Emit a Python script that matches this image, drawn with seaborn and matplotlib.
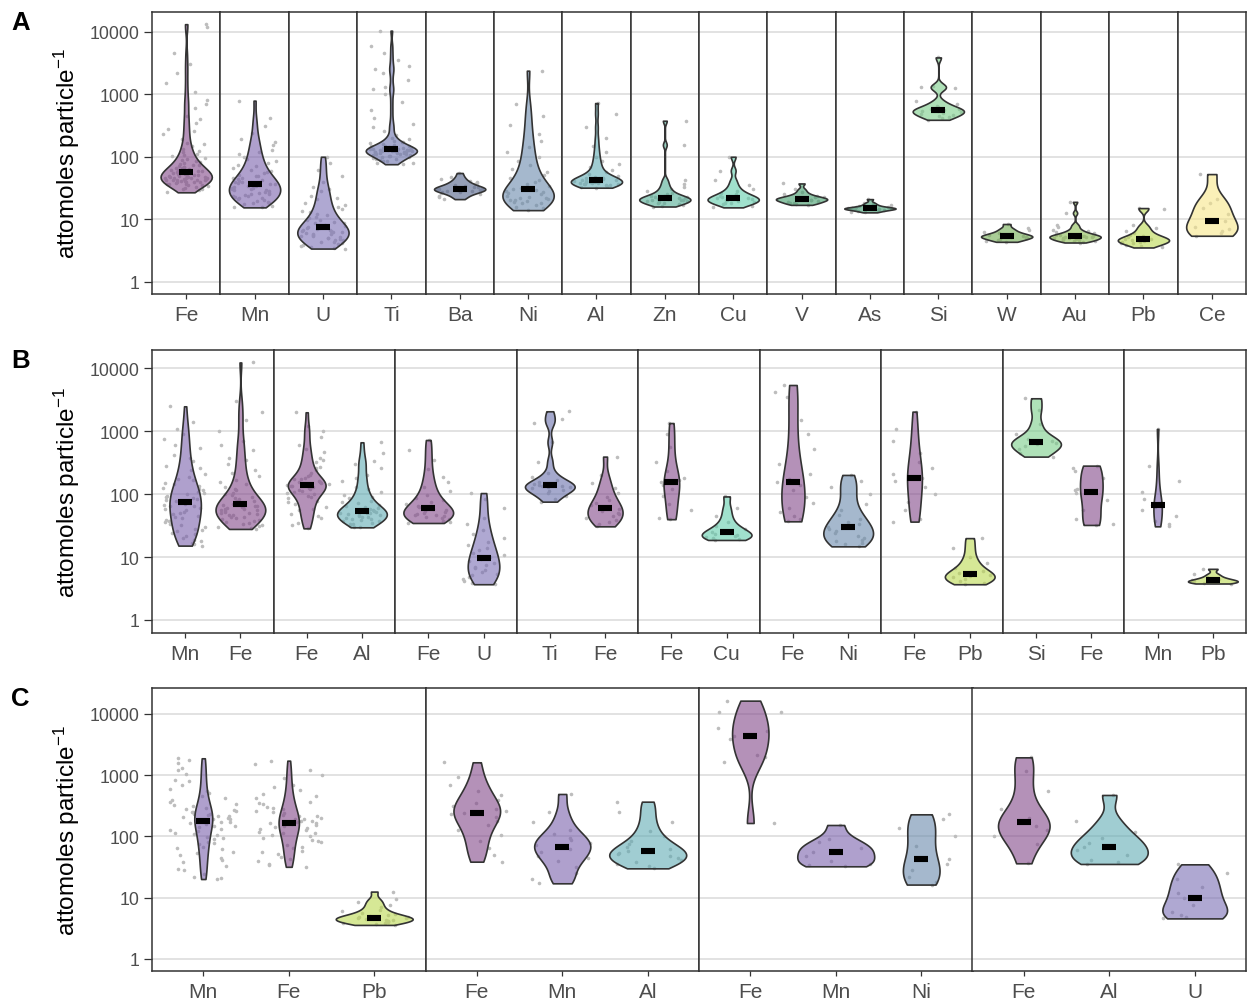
import numpy as np
import pandas as pd
import matplotlib
matplotlib.use("Agg")
import matplotlib.pyplot as plt
from matplotlib.ticker import FixedLocator, FixedFormatter, NullLocator
import seaborn as sns

# ---------------------------------------------------------------------------
# Per-particle element masses (attomoles particle^-1)
# Row A: single-element particles
a_fe = [27, 29, 31, 33, 34, 35, 36, 37, 38, 39, 40, 40, 41, 42, 42, 43, 43, 44,
        44, 45, 45, 46, 46, 47, 48, 49, 50, 51, 52, 53, 54, 55, 56, 57, 58, 59,
        60, 62, 64, 66, 68, 70, 73, 76, 80, 84, 89, 95, 102, 110, 120, 132, 148,
        168, 195, 230, 280, 350, 450, 600, 800, 1100, 1500, 2200, 3000, 4500,
        12000, 13200,
        30, 32, 35, 37, 39, 41, 43, 45, 47, 50, 53, 56,
        61, 65, 69, 74, 82, 92, 105, 125, 160, 260, 400, 700]
a_mn = [15.5, 16.5, 17.5, 18.5, 19, 20, 21, 22, 23, 24, 25, 25.5, 26, 27, 28, 29,
        30, 31, 32, 33, 34, 35, 36, 37, 38, 40, 42, 44, 46, 49, 52, 56, 60, 65,
        71, 78, 87, 98, 112, 130, 155, 190, 240, 310, 420, 790,
        16, 18, 19.5, 21.5, 23.5, 24.5, 26.5, 29.5, 31.5, 34,
        39, 41, 45, 50, 54, 62, 75, 92, 120, 170]
a_u = [3.4, 3.6, 3.8, 4.0, 4.2, 4.4, 4.6, 4.8, 5.0, 5.2, 5.4, 5.6, 5.8, 6.0, 6.2,
       6.4, 6.6, 6.8, 7.0, 7.2, 7.5, 7.8, 8.2, 8.6, 9.0, 9.6, 10.3, 11, 12, 13,
       14.5, 16, 18, 21, 24, 28, 33, 40, 50, 62, 80, 100,
       3.5, 3.9, 4.3, 4.7, 5.1, 5.5, 5.9, 6.3, 6.7,
       7.3, 7.9, 8.8, 9.8, 11.5, 13.5, 17, 22, 30]
a_ti = [76, 80, 84, 88, 92, 95, 98, 101, 104, 107, 110, 112, 114, 116, 118, 120,
        121, 122, 123, 124, 125, 126, 127, 128, 129, 130, 132, 134, 136, 138, 141,
        144, 147, 151, 155, 160, 166, 173, 181, 190, 220, 260, 330, 420, 560, 750,
        1000, 1300, 1700, 2200, 2800, 3500, 4500, 6000, 10400,
        78, 86, 93, 99, 106, 111, 115, 119, 122.5,
        131, 135, 140, 150, 170, 200, 300, 1200, 2500]
a_ba = [21, 22.5, 24, 25, 26, 27, 27.5, 28, 28.5, 29, 29.5, 30, 30.5, 31, 31.5, 32,
        32.5, 33, 34, 35, 36, 37.5, 39, 41, 44, 48, 55]
a_ni = [14, 15, 16, 17, 18, 18.5, 19, 19.5, 20, 20.5, 21, 21.5, 22, 23, 24, 25, 26,
        27, 28, 29, 30, 32, 34, 36, 39, 42, 46, 51, 57, 64, 73, 85, 100, 120, 145,
        180, 230, 320, 450, 700, 2380]
a_al = [32, 33, 34, 35, 35.5, 36, 36.5, 37, 37.5, 38, 38.5, 39, 39.5, 40, 40.5, 41,
        41, 41.5, 42, 43, 44, 45, 46.5, 48, 50, 53, 57, 62, 68, 76, 86, 100, 120,
        150, 200, 300, 480, 722]
a_zn = [16, 16.5, 17, 17.5, 18, 18.5, 19, 19.3, 19.6, 20, 20.3, 20.6, 21, 21.3, 21.6,
        22, 22.5, 23, 23.5, 24, 25, 26.5, 28, 30, 33, 37, 43, 155, 377]
a_cu = [15.5, 16.5, 17.5, 18, 18.5, 19, 19.5, 20, 20.5, 21, 21.5, 22, 22.5, 23, 24,
        25, 26.5, 28, 31, 35, 42, 60, 100]
a_v = [17, 17.5, 18, 18.5, 19, 19.5, 20, 20.3, 20.6, 21, 21.3, 21.6, 22, 22.5, 23,
       24, 25, 27, 30, 37.4]
a_as = [12.9, 13.3, 13.7, 14, 14.2, 14.4, 14.6, 14.8, 14.9, 15, 15.1, 15.3, 15.5,
        15.8, 16.2, 16.8, 17.5, 18.5, 21]
a_si = [390, 410, 430, 450, 470, 490, 505, 520, 535, 545, 555, 570, 590, 615, 650,
        700, 780, 1250, 1300, 1350, 3880]
a_w = [4.36, 4.5, 4.7, 4.85, 5.0, 5.1, 5.2, 5.3, 5.4, 5.5, 5.65, 5.8, 6.0, 6.3, 6.7,
       7.2, 8.4]
a_au = [4.25, 4.4, 4.5, 4.55, 4.6, 4.7, 4.8, 4.9, 5.0, 5.05, 5.1, 5.2, 5.3, 5.3,
        5.4, 5.45, 5.5, 5.6, 5.7, 5.9, 6.0, 6.2, 6.5, 6.8, 7.5, 8.2, 12.6, 19]
a_pb = [3.54, 3.7, 3.9, 4.1, 4.2, 4.3, 4.4, 4.5, 4.6, 4.7, 4.8, 4.9, 5.0, 5.2, 5.4,
        5.6, 6.0, 6.5, 7.2, 8.0, 14.6, 15.1]
a_ce = [5.45, 6.0, 6.5, 7.0, 7.6, 9.5, 12, 15, 18, 21, 52.8]

# Row B: two-element particles
b1_mn = [15.2, 16, 18, 20, 22, 24, 26, 28, 30, 33, 36, 39, 42, 45, 48, 52, 56, 60,
         64, 68, 71, 74, 78, 83, 88, 94, 100, 107, 115, 125, 137, 150, 165, 185,
         210, 240, 280, 340, 420, 550, 750, 1100, 1400, 2490,
         17, 19, 23, 27, 32, 38, 44, 50, 58, 66,
         80, 91, 104, 120, 145, 175, 260, 380, 600, 900]
b1_fe = [28, 30, 32, 34, 36, 38, 40, 42, 44, 46, 48, 50, 52, 54, 56, 58, 60, 62, 64,
         66, 67, 69, 72, 75, 79, 84, 90, 97, 105, 115, 128, 145, 165, 195, 240, 300,
         380, 500, 700, 1000, 1500, 3000, 12400,
         29, 31, 35, 39, 43, 47, 51, 55, 59, 63,
         70, 77, 87, 100, 120, 155, 220, 350, 600, 2000]
b2_fe = [28.6, 35, 42, 48, 55, 62, 70, 78, 86, 94, 102, 110, 118, 125, 131, 136,
         141, 147, 154, 162, 171, 182, 196, 215, 240, 275, 320, 380, 460, 600, 800,
         1200, 2000,
         32, 45, 58, 74, 90, 106, 114, 122, 128, 134,
         138, 144, 150, 158, 175, 205, 260, 350, 520, 1000]
b2_al = [29.7, 31, 33, 35, 37, 39, 40.5, 42, 43.5, 45, 46.5, 48, 49.5, 51, 53, 55,
         57, 60, 63, 67, 72, 78, 86, 96, 110, 130, 160, 200, 260, 340, 450, 667,
         30.5, 34, 38, 41, 44, 47, 50, 52,
         54, 58, 65, 75, 90, 120, 180, 300]
b3_fe = [34.8, 36, 38, 40, 42, 44, 45, 46, 47, 48, 50, 52, 54, 56.7, 59, 62, 65, 69,
         74, 80, 88, 98, 112, 130, 155, 190, 250, 350, 500, 726]
b3_u = [3.7, 3.9, 4.2, 4.5, 4.8, 5.1, 5.4, 5.8, 6.2, 6.6, 7.0, 7.5, 8.0, 8.6, 9.3,
        10, 10.8, 11.7, 12.8, 14, 15.5, 17.5, 20, 23, 27, 33, 42, 60, 85, 104]
b4_ti = [76, 85, 95, 105, 112, 118, 124, 128, 131, 133, 136, 140, 146, 155, 168, 185,
         220, 330, 670, 1340, 1570, 2075]
b4_fe = [30.8, 33, 36, 39, 42, 45, 48, 51, 54, 58, 62, 67, 73, 80, 90, 105, 125, 150,
         200, 395]
b5_fe = [40, 42, 55, 70, 95, 120, 140, 154, 165, 180, 230, 330, 560, 900, 1350]
b5_cu = [18.7, 19.5, 20, 20.5, 21.5, 22.5, 23.5, 24.7, 26, 28, 31, 36, 45, 60, 92]
b6_fe = [37, 40, 45, 52, 60, 72, 90, 115, 140, 154, 175, 210, 300, 520, 900, 1500,
         3500, 4200, 5430]
b6_ni = [14.8, 16, 17, 18, 19, 20, 22, 24, 26, 28, 30.4, 33, 36, 40, 46, 55, 70, 100,
         130, 160, 202]
b7_fe = [36.6, 40, 55, 75, 100, 130, 160, 181, 210, 260, 330, 450, 700, 1100, 2050]
b7_pb = [3.7, 3.9, 4.2, 4.5, 4.8, 5.0, 5.2, 5.5, 6.0, 6.8, 8, 10, 14, 20]
b8_si = [395, 450, 520, 580, 620, 650, 690, 760, 900, 1300, 2200, 3340]
b8_fe = [32.4, 34, 40, 55, 80, 105, 115, 121, 180, 230, 260, 284]
b9_mn = [30.8, 33, 38, 45, 55, 62, 67, 72, 85, 110, 160, 280, 1085]
b9_pb = [3.8, 3.9, 4.0, 4.1, 4.2, 4.3, 4.5, 4.8, 5.3, 6.5]

# Row C: three-element particles
c1_mn = [20.2, 21, 24, 28, 33, 38, 44, 50, 56, 62, 68, 75, 82, 90, 98, 106, 115, 124,
         133, 142, 150, 158, 166, 174, 180, 186, 192, 200, 208, 217, 226, 236, 247,
         260, 275, 290, 310, 335, 365, 400, 450, 520, 600, 700, 850, 1050, 1300,
         1600, 1890,
         22, 30, 41, 53, 65, 79, 94, 110, 128, 146, 170,
         195, 212, 230, 255, 285, 330, 420, 560, 800, 1200, 1800]
c1_fe = [32, 35, 40, 46, 52, 58, 65, 72, 80, 88, 96, 104, 112, 120, 128, 136, 144,
         152, 160, 166, 172, 180, 190, 200, 212, 225, 240, 258, 280, 305, 335, 370,
         420, 490, 580, 700, 900, 1200, 1730,
         34, 43, 55, 68, 84, 100, 116, 132, 148, 163,
         176, 195, 218, 250, 292, 350, 450, 640, 1000, 1500]
c1_pb = [3.6, 3.7, 3.8, 3.9, 4.0, 4.1, 4.2, 4.3, 4.4, 4.5, 4.6, 4.67, 4.67, 4.8, 4.9,
         5.0, 5.2, 5.4, 5.7, 6.0, 6.4, 7.0, 7.7, 8.5, 9.5, 12.6]
c2_fe = [38.8, 50, 65, 85, 105, 130, 155, 180, 205, 230, 240, 258, 285, 315, 350,
         400, 470, 560, 700, 950, 1625]
c2_mn = [17.2, 20, 25, 32, 40, 45, 48, 55, 62, 68, 73.6, 79, 86, 95, 110, 130, 170,
         250, 494]
c2_al = [30.2, 33, 36, 39, 42, 45, 48, 51, 54, 58, 62, 67, 74, 84, 100, 125, 170,
         250, 370]
c3_fe = [166, 1620, 2000, 2100, 3900, 4430, 5200, 6000, 10800, 10900, 16500]
c3_mn = [32.6, 34, 36, 40, 48, 56.5, 60, 65, 80, 90, 154]
c3_ni = [16.4, 18, 22, 28, 35, 43, 70, 100, 140, 190, 230]
c4_fe = [36.5, 75, 100, 130, 150, 170, 200, 281, 560, 1190, 1960]
c4_al = [35.6, 38, 42, 50, 60, 68, 78, 95, 120, 180, 476]
c4_u = [4.6, 4.9, 5.3, 5.8, 7.5, 9.9, 12, 15, 20, 25, 35.1]

# Fill colour for each element
element_colors = {
    "Fe": "#82488A", "Mn": "#7A61AC", "U": "#7A6EB4", "Ti": "#6971AC",
    "Ba": "#50618A", "Ni": "#698AAC", "Al": "#61ACB4", "Zn": "#50AC93",
    "Cu": "#61CDAC", "V": "#3F9B69", "As": "#3F9B71", "Si": "#7ACD8A",
    "W": "#71AC50", "Au": "#8ABC50", "Pb": "#BCD950", "Ce": "#F7E68A",
}

rows = [
    ("A", [[("Fe", a_fe)], [("Mn", a_mn)], [("U", a_u)], [("Ti", a_ti)],
           [("Ba", a_ba)], [("Ni", a_ni)], [("Al", a_al)], [("Zn", a_zn)],
           [("Cu", a_cu)], [("V", a_v)], [("As", a_as)], [("Si", a_si)],
           [("W", a_w)], [("Au", a_au)], [("Pb", a_pb)], [("Ce", a_ce)]]),
    ("B", [[("Mn", b1_mn), ("Fe", b1_fe)], [("Fe", b2_fe), ("Al", b2_al)],
           [("Fe", b3_fe), ("U", b3_u)], [("Ti", b4_ti), ("Fe", b4_fe)],
           [("Fe", b5_fe), ("Cu", b5_cu)], [("Fe", b6_fe), ("Ni", b6_ni)],
           [("Fe", b7_fe), ("Pb", b7_pb)], [("Si", b8_si), ("Fe", b8_fe)],
           [("Mn", b9_mn), ("Pb", b9_pb)]]),
    ("C", [[("Mn", c1_mn), ("Fe", c1_fe), ("Pb", c1_pb)],
           [("Fe", c2_fe), ("Mn", c2_mn), ("Al", c2_al)],
           [("Fe", c3_fe), ("Mn", c3_mn), ("Ni", c3_ni)],
           [("Fe", c4_fe), ("Al", c4_al), ("U", c4_u)]]),
]


def nrd0(kde):
    """Silverman's rule of thumb (R's bw.nrd0), as a factor of the data std."""
    x = np.asarray(kde.dataset).ravel()
    sd = x.std(ddof=1)
    q75, q25 = np.percentile(x, [75, 25])
    lo = min(sd, (q75 - q25) / 1.34)
    if lo <= 0:
        lo = sd if sd > 0 else 1.0
    bw = 0.9 * lo * len(x) ** -0.2
    return bw / sd if sd > 0 else 1.0


# ---------------------------------------------------------------------------
plt.rcParams["font.family"] = ["Liberation Sans", "DejaVu Sans"]
plt.rcParams["mathtext.fontset"] = "custom"
plt.rcParams["mathtext.rm"] = "Liberation Sans"
plt.rcParams["mathtext.it"] = "Liberation Sans:italic"
plt.rcParams["mathtext.bf"] = "Liberation Sans:bold"

W, H = 1248, 1003
fig = plt.figure(figsize=(W / 100, H / 100), dpi=100)

LEFT, RIGHT = 152, 1246
# (top px, bottom px, lower log limit, upper log limit)
row_geom = {
    "A": (12.7, 295.3, -0.20, 4.32),
    "B": (350.7, 634.0, -0.207, 4.296),
    "C": (689.0, 972.0, -0.196, 4.424),
}
EDGE = "#333333"
TXT = "#4D4D4D"

np.random.seed(7)

for label, facets in rows:
    top, bottom, lo, hi = row_geom[label]
    nf = len(facets)
    fw = (RIGHT - LEFT) / nf
    for i, facet in enumerate(facets):
        x0 = LEFT + i * fw
        ax = fig.add_axes([x0 / W, 1 - bottom / H, fw / W, (bottom - top) / H])
        els = [e for e, _ in facet]
        df = pd.DataFrame({
            "el": np.concatenate([[e] * len(v) for e, v in facet]),
            "val": np.concatenate([np.asarray(v, float) for _, v in facet]),
        })
        pal = {e: element_colors[e] for e in els}

        sns.stripplot(data=df, x="el", y="val", order=els, color="#BDBDBD",
                      size=2.6, jitter=0.4, linewidth=0, log_scale=True,
                      zorder=1, ax=ax)
        n_before = len(ax.collections)
        sns.violinplot(data=df, x="el", y="val", order=els, hue="el",
                       hue_order=els, palette=pal, saturation=1, legend=False,
                       cut=0, inner=None, density_norm="area", common_norm=True,
                       bw_method=nrd0, width=0.9, linewidth=1.2, linecolor=EDGE,
                       log_scale=True, ax=ax)
        for coll in ax.collections[n_before:]:
            fc = coll.get_facecolor()
            if len(fc):
                fc[:, 3] = 0.6
                coll.set_facecolor(fc)
            coll.set_zorder(2)
        sns.pointplot(data=df, x="el", y="val", order=els, estimator="median",
                      errorbar=None, color="black", markers="_",
                      linestyles="none", markersize=10, markeredgewidth=4.4,
                      log_scale=True, ax=ax)
        for ln in ax.lines:
            ln.set_zorder(3)

        ax.set_xlim(-0.6, len(els) - 0.4)
        ax.set_ylim(10 ** lo, 10 ** hi)
        ax.yaxis.set_major_locator(FixedLocator([1, 10, 100, 1000, 10000]))
        ax.yaxis.set_major_formatter(FixedFormatter(["1", "10", "100", "1000", "10000"]))
        ax.yaxis.set_minor_locator(NullLocator())
        ax.set_axisbelow(True)
        ax.yaxis.grid(True, color="#DADADA", linewidth=1.1)
        ax.xaxis.grid(False)
        ax.set_xlabel("")
        ax.set_ylabel("")
        for sp in ax.spines.values():
            sp.set_color(EDGE)
            sp.set_linewidth(1.1)
        ax.tick_params(axis="x", length=3.6, width=0.9, color=EDGE,
                       labelcolor=TXT, labelsize=15, pad=4)
        if i == 0:
            ax.tick_params(axis="y", length=5.8, width=0.9, color=EDGE,
                           labelcolor=TXT, labelsize=12.8, pad=3)
        else:
            ax.tick_params(axis="y", left=False, labelleft=False)
        ax.set_facecolor("white")

    # panel letter and axis title
    fig.text(11 / W, 1 - (top - 1.5) / H, label, fontsize=18.5, fontweight="bold",
             ha="left", va="top", color="black")
    fig.text(67 / W, 1 - ((top + bottom) / 2) / H,
             r"attomoles particle$^{-1}$", rotation=90, fontsize=17.5,
             ha="center", va="center", color="black")

fig.savefig("out.png", dpi=100, facecolor="white")
